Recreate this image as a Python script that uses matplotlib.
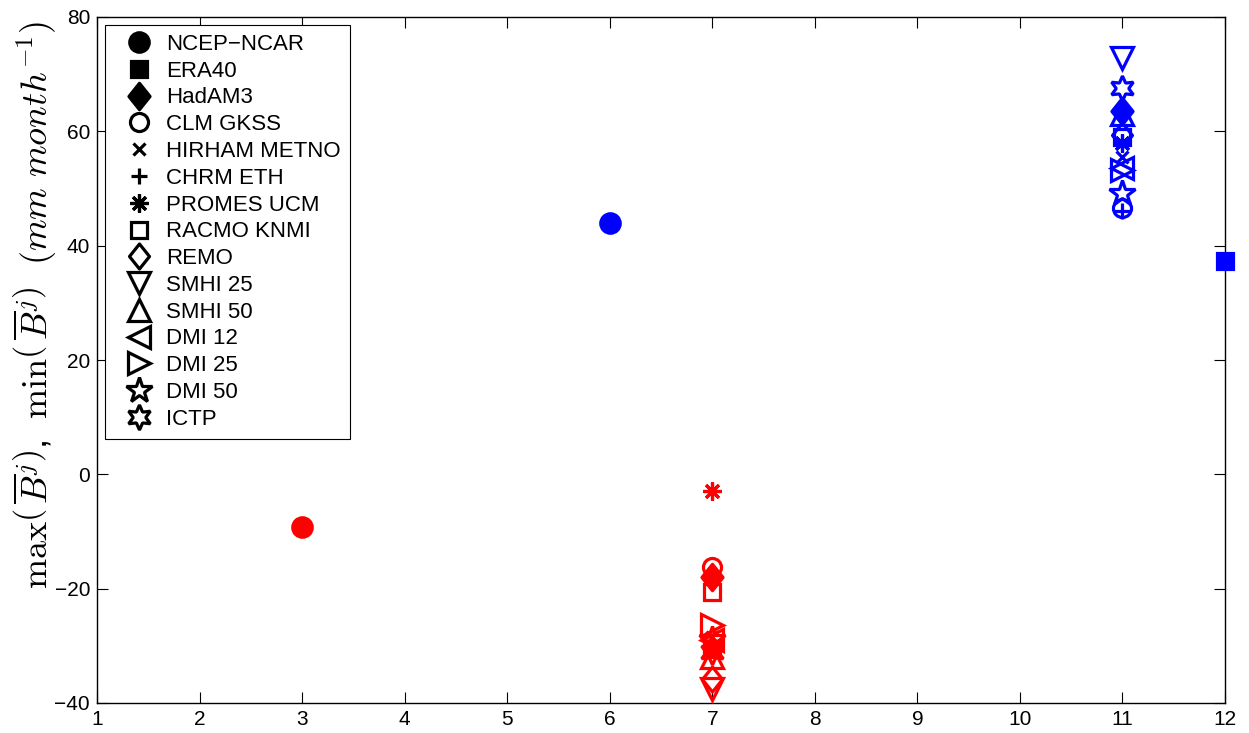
import matplotlib
matplotlib.use("Agg")
import matplotlib.pyplot as plt
from matplotlib.lines import Line2D
from matplotlib.path import Path

# Month of the largest / smallest monthly mean of B for each data set
datasets = ["NCEP\u2212NCAR", "ERA40", "HadAM3", "CLM GKSS", "HIRHAM METNO",
            "CHRM ETH", "PROMES UCM", "RACMO KNMI", "REMO", "SMHI 25",
            "SMHI 50", "DMI 12", "DMI 25", "DMI 50", "ICTP"]
max_month = [6, 12, 11, 11, 11, 11, 11, 11, 11, 11, 11, 11, 11, 11, 11]
max_value = [44.0, 37.3, 63.5, 46.6, 55.5, 46.0, 58.0, 59.0, 59.3, 72.8,
             63.0, 53.6, 53.2, 49.2, 67.6]
min_month = [3, 7, 7, 7, 7, 7, 7, 7, 7, 7, 7, 7, 7, 7, 7]
min_value = [-9.2, -30.5, -18.0, -16.2, -28.5, -30.0, -3.0, -20.5, -35.8,
             -37.6, -32.0, -29.0, -26.3, -28.8, -31.0]

x_ticks = list(range(1, 13))
y_ticks = [-40, -20, 0, 20, 40, 60, 80]

# Marker styles: (marker, markersize, filled)
tall_diamond = Path([(0, 1), (0.8, 0), (0, -1), (-0.8, 0), (0, 1)],
                    [Path.MOVETO, Path.LINETO, Path.LINETO, Path.LINETO,
                     Path.CLOSEPOLY])
styles = {
    "NCEP\u2212NCAR": ("o", 14, True),
    "ERA40": ("s", 11, True),
    "HadAM3": (tall_diamond, 19, True),
    "CLM GKSS": ("o", 13, False),
    "HIRHAM METNO": ("x", 8, False),
    "CHRM ETH": ("+", 12, False),
    "PROMES UCM": ((8, 2, 0), 13, False),
    "RACMO KNMI": ("s", 12, False),
    "REMO": (tall_diamond, 18, False),
    "SMHI 25": ("v", 16, False),
    "SMHI 50": ("^", 16, False),
    "DMI 12": ("<", 16, False),
    "DMI 25": (">", 16, False),
    "DMI 50": ("*", 19, False),
    "ICTP": ((6, 1, 0), 18, False),
}

plt.rcParams["font.family"] = ["Liberation Sans", "DejaVu Sans"]
plt.rcParams["mathtext.fontset"] = "cm"

fig = plt.figure(figsize=(12.49, 7.33), dpi=100)
ax = fig.add_axes([97 / 1249, 30 / 733, (1225 - 97) / 1249, (703 - 17) / 733])

mew = 2.3
for i, name in enumerate(datasets):
    marker, ms, filled = styles[name]
    for month, value, color in ((max_month[i], max_value[i], "#0000ff"),
                                (min_month[i], min_value[i], "#ff0000")):
        ax.plot([month], [value], linestyle="none", marker=marker,
                markersize=ms, markeredgewidth=mew, markeredgecolor=color,
                markerfacecolor=color if filled else "none", clip_on=False,
                zorder=3)

ax.set_xlim(1, 12)
ax.set_ylim(-40, 80)
ax.set_xticks(x_ticks)
ax.set_yticks(y_ticks)
ax.tick_params(direction="in", top=True, right=True, length=8, width=0.8,
               labelsize=15, pad=5)
for s in ax.spines.values():
    s.set_linewidth(1.0)

fig.text(35 / 1249, 1 - 305 / 733,
         r"$\max\left(\,\overline{B}^j\right)$,  $\min\left(\,\overline{B}^j\right)$"
         r"  $(mm\ month^{-1})$",
         rotation=90, ha="center", va="center", fontsize=26)

handles = []
for name in datasets:
    marker, ms, filled = styles[name]
    handles.append(Line2D([], [], linestyle="none", marker=marker,
                          markersize=ms, markeredgewidth=mew,
                          markeredgecolor="black",
                          markerfacecolor="black" if filled else "none"))
leg = ax.legend(handles, datasets, loc="upper left",
                bbox_to_anchor=(105 / 1249, 1 - 25 / 733),
                bbox_transform=fig.transFigure, borderaxespad=0,
                fontsize=16, handlelength=2.27, handletextpad=0.08,
                labelspacing=0.26, borderpad=0.4, fancybox=False,
                framealpha=1, edgecolor="black", numpoints=1)
leg.get_frame().set_linewidth(0.8)

fig.savefig("out.png", dpi=100, facecolor="white")
